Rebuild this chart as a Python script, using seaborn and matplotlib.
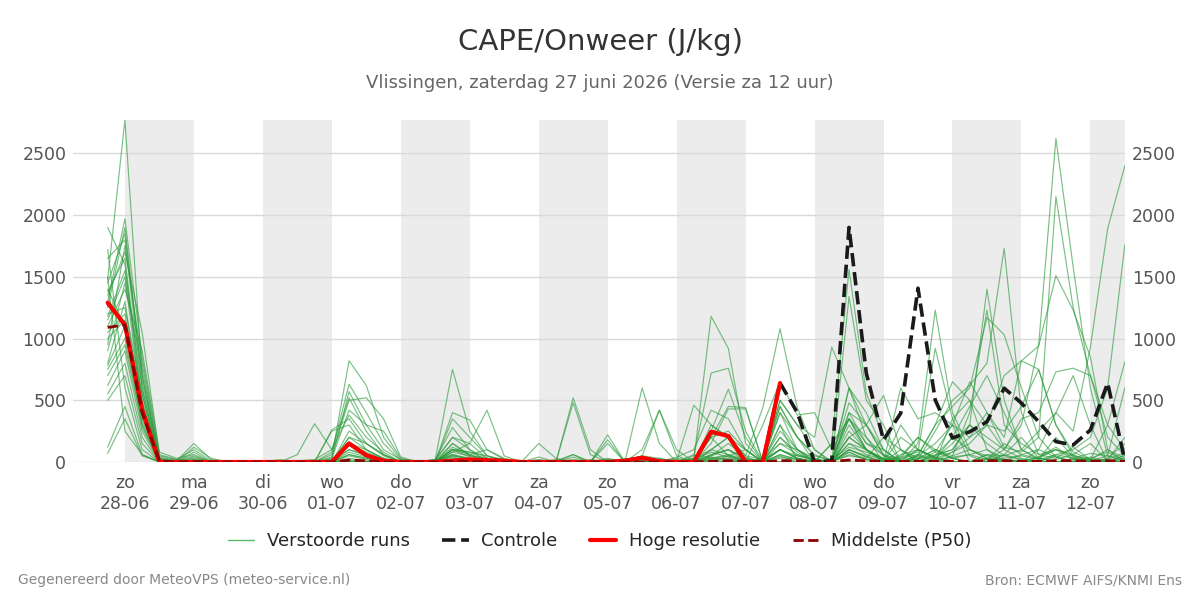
import numpy as np
import pandas as pd
import matplotlib
matplotlib.use("Agg")
import matplotlib.pyplot as plt
from matplotlib.lines import Line2D
import seaborn as sns

# tijdstappen (6-uurlijks), start 27-06 18 uur
start = "2026-06-27 18:00"
n_steps = 60

# hoge resolutie (loopt tot 07-07 12 uur)
hoge_resolutie = [1290, 1110, 420, 0, 0, 0, 0, 0, 0, 0, 0, 0, 0, 0, 150, 55, 10, 0, 0, 0,
                  10, 20, 15, 10, 0, 0, 0, 0, 0, 0, 10, 35, 5, 0, 0, 245, 210, 0, 0, 640]

# controle run
controle = [1290, 1110, 420, 0, 0, 0, 0, 0, 0, 0, 0, 0, 0, 0, 150, 55, 10, 0, 0, 0,
            10, 20, 15, 10, 0, 0, 0, 0, 0, 0, 10, 35, 5, 0, 0, 245, 210, 0, 0, 640,
            400, 0, 10, 1900, 720, 178, 396, 1408, 502, 194, 245, 326, 598, 477, 326, 165, 138, 259, 639, 10]

# mediaan van de ensemble
p50 = [1090, 1110, 400, 10, 0, 5, 0, 0, 0, 0, 0, 0, 0, 0, 15, 10, 0, 0, 0, 0,
       5, 5, 0, 0, 0, 0, 0, 0, 0, 0, 0, 0, 0, 0, 0, 5, 10, 5, 0, 10,
       10, 5, 5, 15, 10, 5, 5, 5, 5, 5, 5, 10, 10, 5, 5, 10, 10, 5, 10, 5]

# verstoorde runs
run_01 = [1480, 2770, 700, 30, 10, 150, 20, 0, 0, 0, 0, 0, 0, 40, 820, 620, 200, 20, 0, 10,
          60, 20, 0, 0, 0, 0, 0, 10, 0, 30, 0, 0, 0, 10, 20, 80, 40, 10, 0, 100,
          30, 0, 20, 120, 80, 30, 0, 150, 1230, 400, 100, 30, 20, 10, 40, 120, 30, 10, 50, 20]
run_02 = [1900, 1600, 450, 20, 0, 120, 30, 0, 0, 0, 10, 0, 0, 80, 630, 400, 150, 10, 0, 0,
          120, 60, 20, 0, 0, 10, 0, 0, 0, 0, 20, 0, 0, 30, 10, 200, 250, 100, 0, 60,
          20, 10, 0, 300, 100, 20, 40, 80, 920, 350, 50, 0, 60, 200, 30, 0, 10, 40, 0, 60]
run_03 = [1300, 1970, 850, 50, 20, 100, 10, 0, 0, 10, 0, 0, 0, 20, 570, 300, 100, 20, 10, 0,
          80, 150, 30, 0, 0, 0, 20, 0, 10, 0, 0, 50, 30, 0, 0, 50, 150, 40, 0, 200,
          80, 0, 10, 50, 30, 200, 100, 0, 80, 300, 650, 400, 200, 820, 750, 300, 80, 20, 100, 30]
run_04 = [1650, 1800, 600, 10, 0, 80, 0, 0, 0, 0, 0, 10, 20, 100, 520, 250, 60, 0, 0, 20,
          200, 100, 30, 10, 0, 0, 0, 0, 0, 20, 0, 10, 0, 0, 60, 30, 20, 0, 30, 150,
          60, 20, 0, 400, 150, 60, 20, 100, 30, 150, 300, 1400, 500, 100, 20, 200, 40, 0, 20, 80]
run_05 = [1100, 1400, 900, 80, 30, 60, 0, 0, 0, 0, 0, 0, 0, 60, 500, 520, 350, 40, 0, 0,
          30, 10, 0, 20, 0, 40, 0, 0, 20, 0, 10, 0, 0, 20, 0, 30, 60, 20, 10, 250,
          100, 30, 0, 60, 20, 0, 50, 200, 100, 50, 400, 1230, 300, 150, 60, 30, 120, 20, 0, 30]
run_06 = [950, 1750, 800, 40, 10, 50, 0, 0, 10, 0, 0, 0, 0, 30, 420, 300, 250, 30, 0, 0,
          100, 40, 0, 0, 0, 0, 10, 60, 0, 0, 0, 0, 10, 0, 30, 200, 50, 10, 20, 0,
          0, 0, 150, 350, 100, 20, 0, 60, 300, 450, 600, 1170, 1030, 600, 200, 40, 0, 30, 80, 10]
run_07 = [1200, 1250, 550, 0, 0, 40, 0, 0, 0, 0, 0, 60, 310, 100, 380, 200, 80, 0, 0, 10,
          40, 0, 20, 0, 0, 0, 0, 0, 0, 0, 30, 10, 0, 0, 0, 100, 200, 100, 0, 450,
          200, 60, 0, 100, 40, 0, 300, 100, 20, 200, 450, 700, 400, 100, 30, 20, 60, 150, 10, 0]
run_08 = [1400, 1100, 480, 20, 10, 30, 0, 0, 0, 0, 20, 0, 0, 260, 350, 150, 50, 0, 0, 0,
          150, 50, 10, 0, 0, 0, 0, 40, 0, 10, 0, 0, 20, 0, 0, 20, 30, 0, 10, 100,
          30, 0, 20, 480, 300, 60, 0, 20, 250, 500, 620, 800, 1730, 400, 60, 100, 20, 0, 30, 150]
run_09 = [1250, 1900, 650, 30, 0, 20, 0, 0, 0, 0, 0, 0, 0, 250, 300, 100, 30, 0, 0, 20,
          280, 100, 0, 0, 0, 20, 0, 0, 0, 0, 0, 0, 0, 0, 10, 50, 100, 30, 0, 0,
          60, 20, 0, 200, 100, 30, 0, 50, 10, 80, 200, 300, 250, 450, 750, 300, 50, 20, 0, 0]
run_10 = [1350, 1700, 1050, 60, 20, 0, 0, 0, 0, 0, 0, 0, 0, 0, 250, 150, 60, 0, 0, 20,
          750, 250, 50, 10, 0, 0, 0, 0, 0, 0, 0, 0, 0, 0, 20, 1180, 920, 150, 0, 200,
          50, 10, 0, 600, 200, 50, 0, 0, 60, 100, 300, 200, 100, 300, 950, 2620, 1580, 600, 50, 0]
run_11 = [1150, 1500, 420, 10, 0, 0, 0, 0, 0, 0, 0, 0, 0, 0, 200, 100, 20, 0, 0, 0,
          400, 340, 100, 20, 0, 0, 0, 0, 0, 0, 0, 0, 0, 10, 0, 300, 200, 50, 20, 100,
          30, 0, 0, 350, 150, 100, 0, 50, 150, 300, 200, 400, 120, 80, 200, 2150, 1250, 700, 300, 100]
run_12 = [900, 1450, 750, 20, 0, 10, 0, 0, 0, 0, 0, 0, 0, 0, 150, 80, 20, 0, 0, 0,
          350, 200, 50, 0, 0, 0, 0, 0, 0, 0, 0, 0, 0, 0, 50, 720, 760, 250, 0, 300,
          100, 20, 0, 200, 100, 0, 0, 50, 300, 650, 500, 300, 700, 820, 940, 1510, 1230, 850, 100, 0]
run_13 = [1050, 1200, 380, 0, 0, 0, 0, 0, 0, 0, 0, 0, 0, 20, 100, 50, 0, 0, 0, 10,
          200, 150, 420, 50, 0, 0, 0, 0, 0, 0, 10, 0, 0, 40, 100, 420, 350, 100, 0, 100,
          30, 0, 0, 100, 40, 0, 200, 100, 30, 80, 150, 300, 100, 350, 400, 730, 760, 700, 200, 50]
run_14 = [800, 1300, 350, 0, 0, 0, 0, 0, 0, 0, 0, 0, 0, 0, 80, 40, 0, 0, 0, 0,
          150, 60, 100, 30, 0, 150, 30, 0, 0, 0, 0, 20, 0, 0, 0, 250, 590, 200, 0, 150,
          100, 0, 0, 200, 300, 50, 0, 0, 50, 100, 300, 150, 50, 100, 250, 400, 700, 300, 0, 0]
run_15 = [750, 1000, 320, 0, 0, 0, 0, 0, 0, 0, 0, 0, 0, 0, 60, 30, 0, 0, 0, 0,
          100, 80, 50, 20, 0, 0, 0, 520, 100, 0, 0, 0, 0, 0, 0, 200, 450, 440, 0, 500,
          300, 100, 0, 80, 20, 0, 100, 30, 0, 50, 100, 30, 10, 60, 100, 400, 250, 930, 1890, 2400]
run_16 = [700, 950, 300, 0, 0, 0, 0, 0, 0, 0, 0, 0, 0, 0, 50, 20, 0, 0, 0, 0,
          80, 50, 30, 0, 0, 0, 0, 480, 60, 0, 0, 0, 0, 10, 0, 150, 430, 430, 0, 400,
          200, 50, 20, 350, 100, 0, 30, 200, 80, 30, 0, 20, 100, 30, 0, 60, 100, 200, 600, 1760]
run_17 = [620, 900, 250, 0, 0, 0, 0, 0, 0, 0, 0, 0, 0, 0, 30, 10, 0, 0, 0, 0,
          50, 30, 0, 0, 0, 0, 0, 60, 0, 220, 0, 0, 0, 0, 0, 100, 200, 50, 440, 1080,
          440, 100, 0, 150, 100, 20, 0, 30, 50, 200, 100, 50, 20, 0, 30, 100, 50, 20, 300, 810]
run_18 = [550, 800, 200, 0, 0, 0, 0, 0, 0, 0, 0, 0, 0, 0, 20, 0, 0, 0, 0, 0,
          20, 0, 0, 0, 0, 0, 0, 0, 0, 180, 0, 0, 30, 0, 0, 60, 100, 0, 300, 650,
          380, 400, 100, 350, 200, 0, 60, 100, 40, 0, 0, 20, 150, 60, 30, 0, 30, 70, 50, 600]
run_19 = [500, 700, 150, 0, 0, 0, 0, 0, 0, 0, 0, 0, 0, 0, 10, 0, 0, 0, 0, 0,
          10, 0, 0, 0, 0, 0, 0, 0, 0, 150, 0, 600, 150, 0, 0, 0, 50, 100, 0, 500,
          300, 200, 930, 600, 300, 100, 0, 20, 100, 30, 0, 0, 60, 20, 0, 0, 20, 0, 0, 50]
run_20 = [1720, 600, 100, 0, 0, 0, 0, 0, 0, 0, 0, 0, 0, 0, 0, 0, 0, 0, 0, 0,
          0, 0, 0, 0, 0, 0, 0, 0, 0, 0, 0, 100, 420, 50, 0, 0, 0, 0, 30, 450,
          200, 0, 150, 1560, 560, 200, 0, 100, 40, 0, 0, 0, 20, 0, 0, 50, 0, 0, 20, 0]
run_21 = [120, 450, 60, 0, 0, 0, 0, 0, 0, 0, 0, 0, 0, 0, 0, 0, 0, 0, 0, 0,
          0, 0, 0, 0, 0, 0, 0, 0, 0, 0, 0, 50, 420, 100, 0, 20, 0, 0, 20, 400,
          100, 0, 0, 1340, 500, 300, 0, 0, 0, 0, 0, 0, 0, 0, 0, 0, 0, 0, 0, 0]
run_22 = [70, 350, 50, 0, 0, 0, 0, 0, 0, 0, 0, 0, 0, 0, 0, 0, 0, 0, 0, 0,
          0, 0, 0, 0, 0, 0, 0, 0, 0, 0, 0, 0, 0, 10, 460, 300, 200, 0, 0, 300,
          0, 0, 0, 600, 400, 100, 0, 0, 0, 0, 0, 30, 0, 0, 0, 0, 0, 0, 0, 0]
run_23 = [1500, 250, 60, 0, 0, 0, 0, 0, 0, 0, 0, 0, 0, 0, 0, 0, 0, 0, 0, 0,
          0, 0, 0, 0, 0, 0, 0, 0, 0, 0, 0, 0, 0, 0, 0, 0, 0, 0, 0, 50,
          0, 0, 0, 400, 300, 540, 100, 0, 0, 350, 500, 100, 0, 0, 0, 0, 0, 0, 0, 0]
run_24 = [1000, 1150, 550, 0, 0, 0, 0, 0, 0, 0, 0, 0, 0, 0, 0, 0, 0, 0, 0, 0,
          0, 0, 0, 0, 0, 0, 0, 0, 0, 0, 0, 0, 0, 0, 0, 0, 0, 0, 0, 0,
          0, 0, 0, 0, 0, 0, 600, 350, 400, 300, 0, 0, 0, 0, 0, 0, 0, 0, 0, 0]
run_25 = [1380, 1650, 500, 0, 0, 20, 0, 0, 0, 0, 0, 0, 0, 10, 150, 100, 30, 0, 0, 0,
          60, 30, 0, 0, 0, 0, 0, 0, 0, 20, 0, 0, 0, 0, 30, 100, 60, 0, 0, 100,
          50, 20, 0, 100, 50, 0, 30, 60, 20, 40, 60, 100, 30, 50, 20, 60, 30, 10, 20, 200]
run_26 = [1180, 1550, 600, 0, 0, 0, 0, 0, 0, 0, 0, 0, 0, 0, 200, 150, 60, 0, 0, 0,
          100, 80, 20, 0, 0, 0, 0, 20, 0, 0, 0, 0, 0, 0, 0, 60, 100, 30, 0, 60,
          20, 0, 0, 150, 60, 20, 0, 30, 100, 30, 0, 60, 20, 0, 100, 40, 0, 0, 10, 0]
run_27 = [780, 1100, 280, 0, 0, 0, 0, 0, 0, 0, 0, 0, 0, 0, 100, 60, 10, 0, 0, 0,
          50, 20, 0, 0, 0, 0, 0, 0, 0, 0, 0, 0, 0, 0, 0, 40, 20, 0, 0, 30,
          0, 0, 0, 80, 20, 0, 0, 0, 0, 30, 60, 20, 0, 0, 40, 100, 60, 0, 0, 0]
run_28 = [1450, 1850, 700, 0, 0, 0, 0, 0, 0, 0, 0, 0, 0, 0, 60, 30, 0, 0, 0, 0,
          100, 60, 0, 0, 0, 0, 0, 0, 0, 0, 0, 0, 0, 0, 0, 30, 50, 0, 0, 40,
          20, 0, 0, 250, 100, 0, 0, 0, 30, 0, 0, 60, 50, 20, 0, 0, 0, 20, 0, 0]

runs = [run_01, run_02, run_03, run_04, run_05, run_06, run_07, run_08, run_09, run_10,
        run_11, run_12, run_13, run_14, run_15, run_16, run_17, run_18, run_19, run_20,
        run_21, run_22, run_23, run_24, run_25, run_26, run_27, run_28]

dagnamen = ["ma", "di", "wo", "do", "vr", "za", "zo"]

tijd = pd.date_range(start, periods=n_steps, freq="6h")

# long format voor seaborn
ens = pd.DataFrame({
    "tijd": np.tile(tijd, len(runs)),
    "cape": np.concatenate(runs),
    "run": np.repeat(np.arange(len(runs)), n_steps),
})

sns.set_style("white")
plt.rcParams["font.family"] = ["DejaVu Sans"]

fig = plt.figure(figsize=(12, 6), dpi=100)
ax = fig.add_axes([0.061, 0.23, 0.8764, 0.57])

# grijze banden om de dag
dagen = pd.date_range("2026-06-28", "2026-07-12", freq="D")
for i, d in enumerate(dagen):
    if i % 2 == 0:
        ax.axvspan(d, d + pd.Timedelta(days=1), color="#ececec", lw=0, zorder=0)

ens_kleur = "#2a9a3a"
sns.lineplot(data=ens, x="tijd", y="cape", units="run", estimator=None, color=ens_kleur,
             lw=0.85, alpha=0.62, legend=False, ax=ax, zorder=2)
sns.lineplot(x=tijd, y=controle, color="#1a1a1a", lw=2.6, linestyle="--", ax=ax, zorder=3)
sns.lineplot(x=tijd[:len(hoge_resolutie)], y=hoge_resolutie, color="#ff0000", lw=3, ax=ax, zorder=4)
sns.lineplot(x=tijd, y=p50, color="#8b0000", lw=2, linestyle="--", ax=ax, zorder=5)

ax.set_xlim(pd.Timestamp("2026-06-27 06:00"), pd.Timestamp("2026-07-12 12:00"))
ax.set_ylim(0, 2770)
ax.set_yticks([0, 500, 1000, 1500, 2000, 2500])
ax.grid(axis="y", color="#d9d9d9", lw=1)
ax.grid(axis="x", visible=False)
ax.set_axisbelow(True)

ax.set_xticks(dagen)
ax.set_xticklabels([f"{dagnamen[d.weekday()]}\n{d.strftime('%d-%m')}" for d in dagen])
ax.tick_params(axis="x", length=6, width=2, color="#777777", labelsize=12.5,
               labelcolor="#555555", pad=3)
ax.tick_params(axis="y", length=0, labelsize=12.5, labelcolor="#555555",
               left=False, right=False, labelleft=True, labelright=True, pad=5)
for s in ax.spines.values():
    s.set_visible(False)
ax.set_xlabel("")
ax.set_ylabel("")

fig.text(0.5, 0.93, "CAPE/Onweer (J/kg)", ha="center", va="center", fontsize=21, color="#333333")
fig.text(0.5, 0.862, "Vlissingen, zaterdag 27 juni 2026 (Versie za 12 uur)", ha="center",
         va="center", fontsize=13, color="#666666")

handles = [
    Line2D([], [], color="#5cb86a", lw=1),
    Line2D([], [], color="#1a1a1a", lw=2.6, linestyle="--"),
    Line2D([], [], color="#ff0000", lw=3),
    Line2D([], [], color="#8b0000", lw=2, linestyle="--"),
]
labels = ["Verstoorde runs", "Controle", "Hoge resolutie", "Middelste (P50)"]
fig.legend(handles, labels, loc="center", bbox_to_anchor=(0.5, 0.098), ncol=4, frameon=False,
           fontsize=13, columnspacing=1.8, handlelength=1.45, handletextpad=0.7)

fig.text(0.015, 0.033, "Gegenereerd door MeteoVPS (meteo-service.nl)", ha="left", va="center",
         fontsize=10, color="#888888")
fig.text(0.985, 0.033, "Bron: ECMWF AIFS/KNMI Ens", ha="right", va="center",
         fontsize=10, color="#888888")

fig.savefig("out.png", dpi=100)
